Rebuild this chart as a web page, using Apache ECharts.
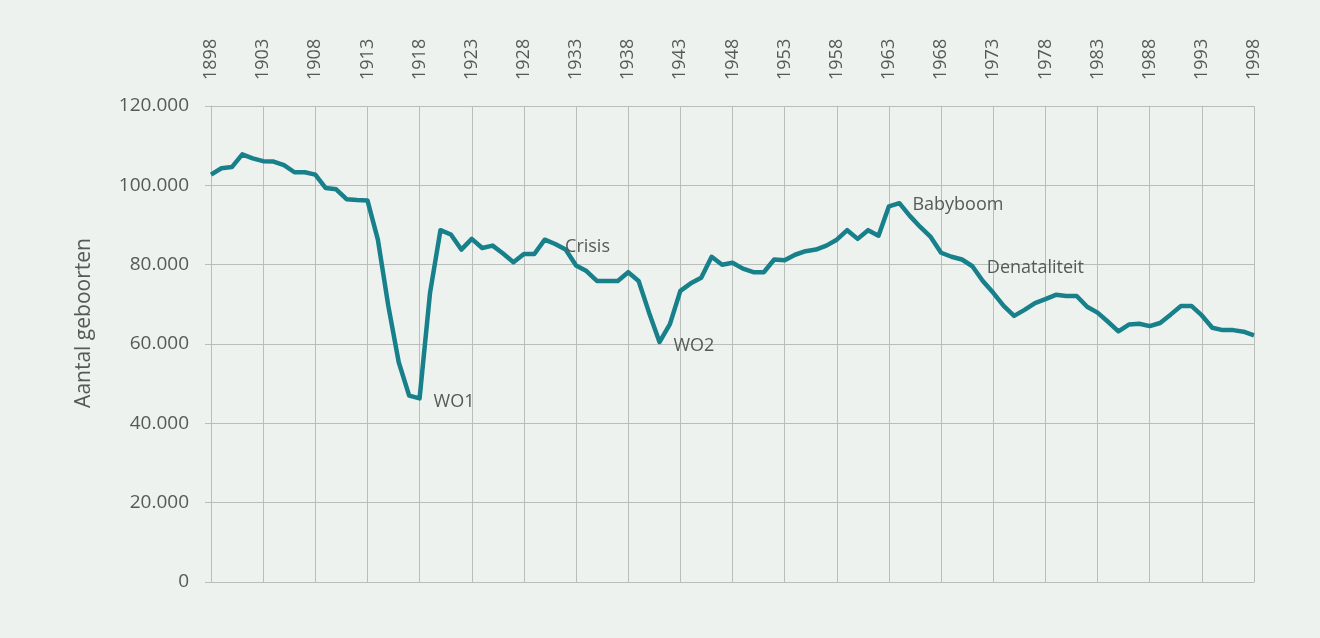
<!DOCTYPE html>
<html>
<head>
<meta charset="utf-8">
<script src="https://cdn.jsdelivr.net/npm/echarts@6/dist/echarts.min.js"></script>
<style>
  html, body { margin: 0; padding: 0; background: #edf2ef; }
  #chart { width: 1320px; height: 638px; }
</style>
</head>
<body>
<div id="chart"></div>
<script>
// jaren 1898 - 1998
const years = [];
for (let y = 1898; y <= 1998; y++) years.push(String(y));

const births = [
  102700, 104300, 104600, 107800, 106800, 106100, 106000, 105100, 103300, 103300,
  102700, 99300, 99000, 96500, 96300, 96200, 86300, 69600, 55400, 47000,
  46300, 72900, 88700, 87600, 83800, 86500, 84200, 84800, 82800, 80600,
  82700, 82700, 86300, 85200, 83800, 79800, 78400, 75900, 75900, 75900,
  78100, 75900, 67900, 60500, 65000, 73400, 75300, 76700, 82000, 80000,
  80500, 79000, 78100, 78100, 81300, 81100, 82500, 83400, 83800, 84800,
  86300, 88700, 86500, 88700, 87300, 94700, 95500, 92300, 89500, 87000,
  83000, 82000, 81300, 79600, 75900, 72900, 69600, 67100, 68600, 70300,
  71300, 72400, 72100, 72100, 69400, 67900, 65600, 63200, 64900, 65100,
  64500, 65300, 67400, 69600, 69600, 67200, 64100, 63500, 63500, 63100,
  62200
];

// annotaties
const notes = [
  { name: 'WO1', year: '1918', offset: [9, 4] },
  { name: 'Crisis', year: '1933', offset: [-16, -19] },
  { name: 'WO2', year: '1941', offset: [9, 4] },
  { name: 'Babyboom', year: '1964', offset: [8, 2] },
  { name: 'Denataliteit', year: '1972', offset: [-1, -13] }
];

const yTicks = [0, 20000, 40000, 60000, 80000, 100000, 120000];

const grey = '#555a58';
const gridCol = '#b9bebb';

const chart = echarts.init(document.getElementById('chart'));
chart.setOption({
  backgroundColor: '#edf2ef',
  textStyle: { fontFamily: 'Open Sans' },
  grid: { left: 211, right: 66, top: 106, bottom: 56 },
  xAxis: {
    type: 'category',
    position: 'top',
    data: years,
    boundaryGap: false,
    axisLine: { show: true, lineStyle: { color: gridCol, width: 1 } },
    axisTick: { show: true, interval: 4, length: 4, lineStyle: { color: gridCol } },
    axisLabel: {
      interval: 4, rotate: 90, margin: 26,
      color: grey, fontSize: 18, fontFamily: 'Open Sans'
    },
    splitLine: { show: true, interval: 4, lineStyle: { color: gridCol, width: 1 } }
  },
  yAxis: {
    type: 'value',
    min: yTicks[0],
    max: yTicks[yTicks.length - 1],
    interval: 20000,
    name: 'Aantal geboorten',
    nameLocation: 'middle',
    nameGap: 116,
    nameTextStyle: { color: grey, fontSize: 21, fontFamily: 'Open Sans', padding: [0, 0, 0, 42] },
    axisLine: { show: true, lineStyle: { color: gridCol, width: 1 } },
    axisTick: { show: true, length: 6, lineStyle: { color: gridCol } },
    axisLabel: {
      margin: 22, color: grey, fontSize: 19, fontFamily: 'Open Sans',
      formatter: v => v === 0 ? '0' : (v / 1000) + '.000'
    },
    splitLine: { show: true, lineStyle: { color: gridCol, width: 1 } }
  },
  series: [{
    type: 'line',
    data: births,
    showSymbol: false,
    symbol: 'none',
    lineStyle: { color: '#17808a', width: 4.5, join: 'round' },
    itemStyle: { color: '#17808a' },
    markPoint: {
      symbol: 'circle',
      symbolSize: 0,
      label: {
        show: true,
        position: 'right',
        formatter: '{b}',
        color: grey,
        fontSize: 18,
        fontFamily: 'Open Sans'
      },
      data: notes.map(n => ({
        name: n.name,
        coord: [n.year, births[years.indexOf(n.year)]],
        label: { offset: n.offset }
      }))
    }
  }]
});
</script>
</body>
</html>
